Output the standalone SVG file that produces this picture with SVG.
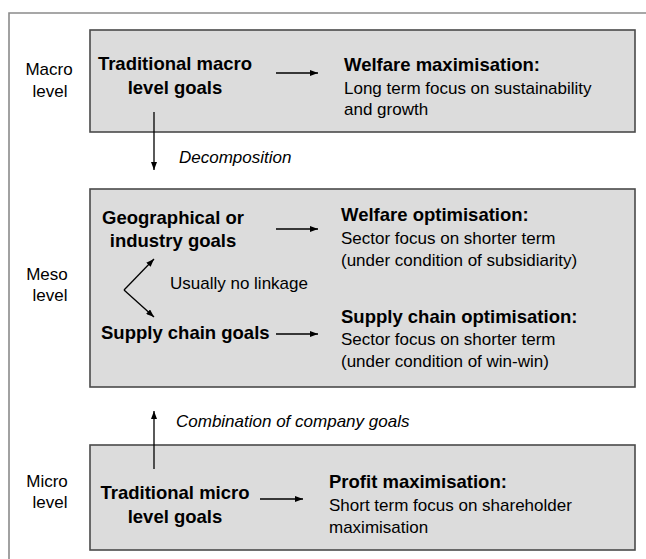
<svg xmlns="http://www.w3.org/2000/svg" width="646" height="559" viewBox="0 0 646 559">
<defs>
<marker id="ah" markerUnits="userSpaceOnUse" markerWidth="8" markerHeight="6" refX="8" refY="3" orient="auto">
<path d="M0,0 L8,3 L0,6 z" fill="#000"/>
</marker>
</defs>
<style>
.box{fill:#dcdcdc;stroke:#4a4a4a;stroke-width:1.6}
.frame{fill:none;stroke:#8a8a8a;stroke-width:1.6}
.lvl{font-family:"Liberation Sans",Arial,sans-serif;font-size:17px;fill:#000;text-anchor:middle}
.b{font-family:"Liberation Sans",Arial,sans-serif;font-size:18.5px;font-weight:bold;fill:#000}
.bc{font-family:"Liberation Sans",Arial,sans-serif;font-size:18.5px;font-weight:bold;fill:#000;text-anchor:middle}
.r{font-family:"Liberation Sans",Arial,sans-serif;font-size:17px;fill:#000}
.i{font-family:"Liberation Sans",Arial,sans-serif;font-size:17px;font-style:italic;fill:#000}
.c{stroke:#000;stroke-width:1.3;fill:none;marker-end:url(#ah)}
</style>
<rect width="646" height="559" fill="#fff"/>
<path class="frame" d="M9,565 L9,13 L652,13"/>

<g id="macro-level">
<text class="lvl" x="49" y="75">Macro</text>
<text class="lvl" x="50" y="97">level</text>
</g>
<g id="meso-level">
<text class="lvl" x="47" y="280">Meso</text>
<text class="lvl" x="50" y="301">level</text>
</g>
<g id="micro-level">
<text class="lvl" x="47" y="487">Micro</text>
<text class="lvl" x="50" y="508">level</text>
</g>

<g id="macro-box">
<rect class="box" x="90" y="30" width="545" height="102"/>
</g>
<g id="meso-box">
<rect class="box" x="90" y="189" width="545" height="198"/>
</g>
<g id="micro-box">
<rect class="box" x="90" y="445" width="545" height="105"/>
</g>

<g id="traditional-macro">
<text class="bc" x="175" y="70">Traditional macro</text>
<text class="bc" x="175" y="94">level goals</text>
</g>
<g id="welfare-max">
<text class="b" x="344" y="71">Welfare maximisation:</text>
<text class="r" x="344" y="94">Long term focus on sustainability</text>
<text class="r" x="344" y="115">and growth</text>
</g>
<g id="geo-goals">
<text class="bc" x="173" y="224">Geographical or</text>
<text class="bc" x="173" y="247">industry goals</text>
</g>
<g id="welfare-opt">
<text class="b" x="341" y="221">Welfare optimisation:</text>
<text class="r" x="341" y="244">Sector focus on shorter term</text>
<text class="r" x="341" y="266">(under condition of subsidiarity)</text>
</g>
<g id="supply-goals">
<text class="b" x="101" y="339">Supply chain goals</text>
</g>
<g id="supply-opt">
<text class="b" x="341" y="323">Supply chain optimisation:</text>
<text class="r" x="341" y="345">Sector focus on shorter term</text>
<text class="r" x="341" y="367">(under condition of win-win)</text>
</g>
<g id="traditional-micro">
<text class="bc" x="175" y="499">Traditional micro</text>
<text class="bc" x="175" y="523">level goals</text>
</g>
<g id="profit-max">
<text class="b" x="329" y="488">Profit maximisation:</text>
<text class="r" x="329" y="511">Short term focus on shareholder</text>
<text class="r" x="329" y="533">maximisation</text>
</g>

<g id="connectors">
<path class="c" d="M276,73 L318,73"/>
<path class="c" d="M154,112 L154,170"/>
<path class="c" d="M276,229 L318,229"/>
<path class="c" d="M124,290 L154,259"/>
<path class="c" d="M124,290 L154,317"/>
<path class="c" d="M276,334 L318,334"/>
<path class="c" d="M154,469 L154,411"/>
<path class="c" d="M260,499 L303,499"/>
<text class="i" x="179" y="163">Decomposition</text>
<text class="r" x="170" y="289">Usually no linkage</text>
<text class="i" x="176" y="427">Combination of company goals</text>
</g>
</svg>
